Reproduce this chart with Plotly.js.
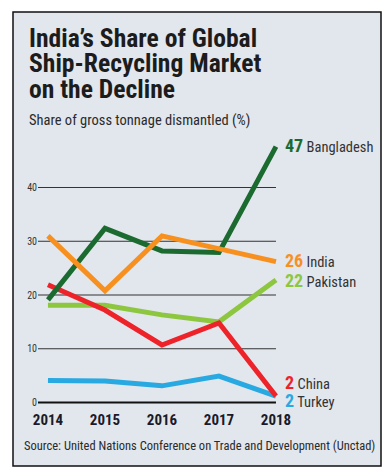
<!DOCTYPE html>
<html>
<head>
<meta charset="utf-8">
<script src="https://cdn.plot.ly/plotly-3.0.1.min.js"></script>
<style>html,body{margin:0;padding:0;background:#fff;}#chart{width:387px;height:470px;}</style>
</head>
<body>
<div id="chart"></div>
<script>
// ---- data ----
const years = [2014, 2015, 2016, 2017, 2018];
const bangladesh = [19.1, 32.4, 28.2, 27.9, 47.6];
const india = [31.0, 20.8, 31.0, 28.6, 26.2];
const pakistan = [18.1, 18.1, 16.3, 15.0, 22.8];
const china = [21.9, 17.2, 10.7, 14.8, 1.2];
const turkey = [4.1, 4.0, 3.1, 4.9, 1.2];
const seriesNames = ["Bangladesh", "India", "Pakistan", "China", "Turkey"];
const endLabels = ["47", "26", "22", "2", "2"];
const yTicks = [0, 10, 20, 30, 40];
const titleLines = ["India\u2019s Share of Global", "Ship-Recycling Market", "on the Decline"];
const subtitle = "Share of gross tonnage dismantled (%)";
const source = "Source: United Nations Conference on Trade and Development (Unctad)";

// ---- style ----
const FONT = "'Roboto Condensed', 'DejaVu Sans Condensed', sans-serif";
const colors = {Bangladesh:"#1b6b30", India:"#f7901e", Pakistan:"#8dc63f", China:"#ee2229", Turkey:"#29a9e1"};
const labelYShift = {Bangladesh:1, India:1.5, Pakistan:-1, China:13.5, Turkey:-4.5};
const values = {Bangladesh:bangladesh, India:india, Pakistan:pakistan, China:china, Turkey:turkey};
const drawOrder = ["Turkey", "Pakistan", "China", "Bangladesh", "India"];

const W = 387, H = 470;
const M = {l:38, r:17, t:140, b:65};
const PW = W - M.l - M.r, PH = H - M.t - M.b;
const px2x = p => (p - M.l) / PW;
const px2y = p => (H - M.b - p) / PH;

const xRange = [2013.825, 2013.825 + PW / 57];
const yRange = [-0.465, -0.465 + PH / 5.375];

const traces = drawOrder.map(n => ({
  x: years, y: values[n], type: "scatter", mode: "lines", name: n,
  line: {color: colors[n], width: 5}, hoverinfo: "skip"
}));

const shapes = [{
  type: "rect", xref: "paper", yref: "paper", layer: "below",
  x0: px2x(13), x1: px2x(381), y0: px2y(466), y1: px2y(12),
  fillcolor: "#e2e6ed", line: {color: "#111", width: 1.5}
}];
yTicks.forEach(v => shapes.push({
  type: "line", xref: "x", yref: "y", layer: "below",
  x0: xRange[0], x1: years[years.length - 1], y0: v, y1: v,
  line: {color: v === 0 ? "#111" : "#333", width: v === 0 ? 2.2 : 1}
}));

const TS = 25.6, SS = 14.5, CS = 12.5;
const annotations = [];
const titleBase = [46, 71.7, 97.3];
titleLines.forEach((t, i) => annotations.push({
  xref: "paper", yref: "paper", x: px2x(27), y: px2y(titleBase[i] - 0.33 * TS),
  xanchor: "left", yanchor: "middle", showarrow: false, text: "<b>" + t + "</b>",
  font: {family: FONT, size: TS, color: "#1c1c1c"}
}));
annotations.push({
  xref: "paper", yref: "paper", x: px2x(27), y: px2y(125.7 - 0.33 * SS),
  xanchor: "left", yanchor: "middle", showarrow: false, text: subtitle,
  font: {family: FONT, size: SS, color: "#2a2a2a"}
});
annotations.push({
  xref: "paper", yref: "paper", x: px2x(22), y: px2y(449.5 - 0.33 * CS),
  xanchor: "left", yanchor: "middle", showarrow: false, text: source,
  font: {family: FONT, size: CS, color: "#2a2a2a"}
});
seriesNames.forEach((n, i) => {
  const v = values[n];
  annotations.push({
    xref: "x", yref: "y", x: years[years.length - 1], y: v[v.length - 1],
    xanchor: "left", yanchor: "middle", xshift: 7, yshift: labelYShift[n], showarrow: false,
    text: '<span style="font-size:18px;color:' + colors[n] + '"><b>' + endLabels[i] + '</b></span> ' + n,
    font: {family: FONT, size: 14.5, color: "#333"}
  });
});

const layout = {
  width: W, height: H, margin: M,
  paper_bgcolor: "#ffffff", plot_bgcolor: "rgba(0,0,0,0)",
  showlegend: false,
  xaxis: {range: xRange, tickvals: years, ticktext: years.map(y => "<b>" + y + "</b>"),
    showgrid: false, zeroline: false, showline: false, ticks: "", ticklabelstandoff: 4,
    tickfont: {family: FONT, size: 15, color: "#1a1a2a"}, fixedrange: true},
  yaxis: {range: yRange, tickvals: yTicks, showgrid: false, zeroline: false, showline: false, ticks: "",
    tickfont: {family: FONT, size: 10, color: "#333"}, fixedrange: true},
  shapes: shapes, annotations: annotations
};
Plotly.newPlot("chart", traces, layout, {displayModeBar: false, staticPlot: true});
</script>
</body>
</html>
